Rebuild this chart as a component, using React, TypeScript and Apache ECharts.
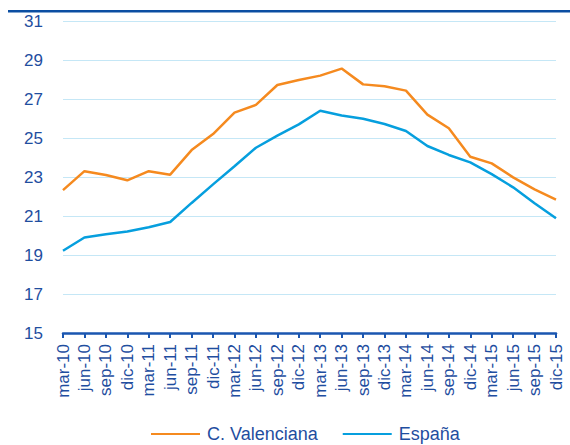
import React, { useEffect, useRef } from "react";
import * as echarts from "echarts";

const categories = [
  "mar-10", "jun-10", "sep-10", "dic-10",
  "mar-11", "jun-11", "sep-11", "dic-11",
  "mar-12", "jun-12", "sep-12", "dic-12",
  "mar-13", "jun-13", "sep-13", "dic-13",
  "mar-14", "jun-14", "sep-14", "dic-14",
  "mar-15", "jun-15", "sep-15", "dic-15",
];

const valenciana = [
  22.33, 23.3, 23.1, 22.83,
  23.3, 23.12, 24.38, 25.2,
  26.3, 26.7, 27.72, 27.97,
  28.2, 28.56, 27.75, 27.65,
  27.43, 26.2, 25.5, 24.04,
  23.7, 22.98, 22.37, 21.84,
];

const espana = [
  19.22, 19.9, 20.06, 20.2,
  20.42, 20.69, 21.67, 22.62,
  23.55, 24.5, 25.12, 25.7,
  26.4, 26.15, 25.99, 25.72,
  25.36, 24.59, 24.13, 23.75,
  23.15, 22.47, 21.65, 20.88,
];

const seriesNames = ["C. Valenciana", "España"];

const NAVY = "#1f4e9f";
const ORANGE = "#f58a1f";
const BLUE = "#069fde";
const FONT = "Liberation Sans, Arial, sans-serif";

export default function App() {
  const ref = useRef<HTMLDivElement>(null);
  useEffect(() => {
    if (!ref.current) return;
    const chart = echarts.init(ref.current, undefined, { renderer: "svg" });
    chart.setOption({
      animation: false,
      backgroundColor: "#ffffff",
      textStyle: { fontFamily: FONT },
      graphic: [
        {
          type: "rect",
          shape: { x: 8, y: 10, width: 562, height: 2.5 },
          style: { fill: "#0b4ea2" },
        },
      ],
      legend: {
        top: 420,
        left: 146,
        itemWidth: 49,
        itemHeight: 10,
        itemGap: 25,
        icon: "path://M0,4 L49,4 L49,6 L0,6 Z",
        textStyle: { color: NAVY, fontSize: 18, fontFamily: FONT, padding: [0, 0, 0, 2] },
        data: [
          { name: seriesNames[0], itemStyle: { color: ORANGE } },
          { name: seriesNames[1], itemStyle: { color: BLUE } },
        ],
      },
      grid: { left: 63, right: 14, top: 21, bottom: 112, containLabel: false },
      xAxis: {
        type: "category",
        data: categories,
        boundaryGap: false,
        axisLine: { lineStyle: { color: "#1a56b0", width: 2.5 } },
        axisTick: { show: true, interval: 0, length: 5, lineStyle: { color: "#1a56b0", width: 2 } },
        axisLabel: {
          interval: 0,
          rotate: 90,
          color: NAVY,
          fontSize: 17,
          fontFamily: FONT,
          margin: 11,
        },
        splitLine: { show: false },
      },
      yAxis: {
        type: "value",
        min: 15,
        max: 31,
        interval: 2,
        axisLine: { show: false },
        axisTick: { show: false },
        axisLabel: { color: NAVY, fontSize: 17, fontFamily: FONT, margin: 20 },
        splitLine: { lineStyle: { color: "#c5e7f6", width: 1.2 } },
      },
      series: [
        {
          name: seriesNames[0],
          type: "line",
          data: valenciana,
          symbol: "none",
          lineStyle: { color: ORANGE, width: 2.5 },
          itemStyle: { color: ORANGE },
        },
        {
          name: seriesNames[1],
          type: "line",
          data: espana,
          symbol: "none",
          lineStyle: { color: BLUE, width: 2.5 },
          itemStyle: { color: BLUE },
        },
      ],
    });
    return () => chart.dispose();
  }, []);
  return <div ref={ref} style={{ width: 570, height: 445, position: "absolute", left: 0, top: 0 }} />;
}
